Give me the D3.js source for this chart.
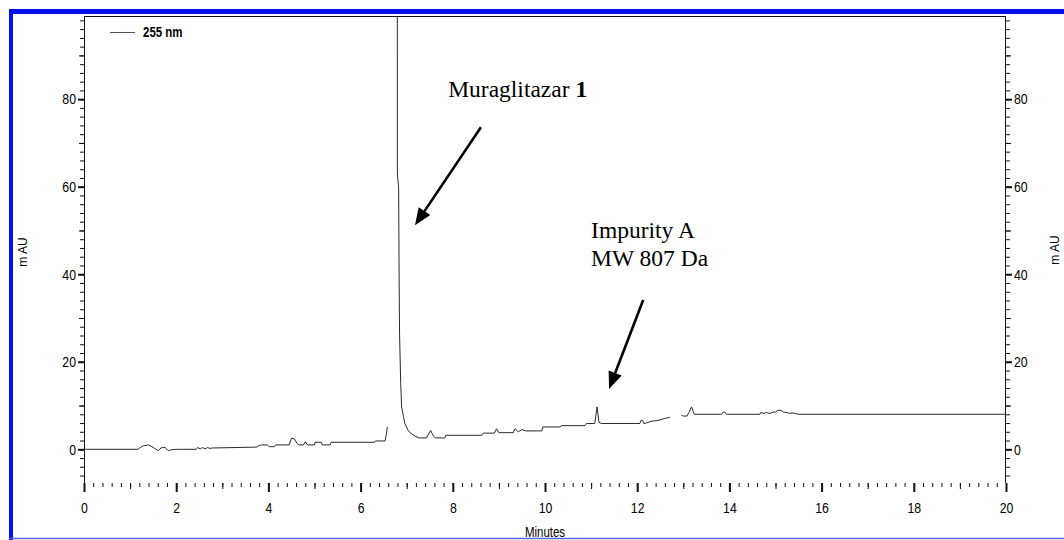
<!DOCTYPE html>
<html>
<head>
<meta charset="utf-8">
<script src="https://cdn.jsdelivr.net/npm/d3@7/dist/d3.min.js"></script>
<style>
    html, body { margin: 0; padding: 0; background: #fff; }
    svg { display: block; }
    .tick text {
        font-family: "Liberation Sans", Arial, sans-serif;
        font-size: 15px;
        fill: #000;
    }
</style>
</head>
<body>
<svg id="chart" width="1064" height="540"></svg>
<script>
// tick labels
const xMajor = [0, 2, 4, 6, 8, 10, 12, 14, 16, 18, 20];
const yMajor = [0, 20, 40, 60, 80];

// chromatogram at 255 nm; null = gap in the trace
const traceTimes = [
    0, 1.17, 1.22, 1.29, 1.4, 1.47, 1.53, 1.61, 1.67, 1.7, 1.76, 1.83, 1.9, 2.0,
    2.43, 2.47, 2.52, 2.57, 2.63, 2.68, 2.73, 2.78, 3.75, 3.8, 3.85, 3.98, 4.02,
    4.13, 4.16, 4.45, 4.5, 4.56, 4.62, 4.66, 4.76, 4.8, 4.85, 4.88, 5.0, 5.01,
    5.15, 5.17, 5.34, 5.36, 6.3, 6.32, 6.53, 6.56, 6.58,
    6.6,
    6.796, 6.797, 6.805, 6.825, 6.835, 6.845, 6.87, 6.89, 6.93, 6.96, 7.03, 7.1,
    7.18, 7.27, 7.43, 7.48, 7.52, 7.57, 7.62, 7.83, 7.85, 8.63, 8.66, 8.9, 8.95,
    9.0, 9.31, 9.35, 9.42, 9.5, 9.58, 9.93, 9.95, 10.33, 10.35, 10.87, 10.9,
    11.08, 11.13, 11.17, 11.22, 12.06, 12.08, 12.12, 12.14, 12.2, 12.3, 12.45,
    12.55, 12.62, 12.71,
    12.8,
    12.96, 13.0, 13.08, 13.12, 13.18, 13.21, 13.24, 13.83, 13.86, 13.9, 13.93,
    14.66, 14.68, 14.75, 14.8, 14.88, 14.95, 15.0, 15.05, 15.12, 15.17, 15.25,
    15.3, 15.38, 15.46, 15.5, 20
];
const traceMau = [
    0, 0, 0.4, 0.8, 1.0, 0.6, 0.2, -0.3, 0.3, 0.4, 0.4, -0.3, -0.1, 0,
    0, 0.4, 0.1, 0.4, 0.1, 0.4, 0.2, 0.3, 0.5, 0.9, 1.0, 1.0, 0.6,
    0.6, 1.0, 1.0, 2.5, 2.4, 1.4, 1.0, 1.0, 1.7, 1.0, 1.0, 1.0, 1.6,
    1.6, 1.0, 1.0, 1.6, 1.6, 1.9, 1.9, 3.5, 5.1,
    null,
    130, 64, 62, 60, 40, 26.5, 15, 9.7, 7.5, 5.9, 4.3, 3.6,
    3.0, 2.6, 2.6, 3.6, 4.3, 3.2, 2.6, 2.6, 3.2, 3.2, 3.7, 3.7, 4.7,
    3.8, 3.8, 4.7, 4.0, 4.5, 4.2, 4.2, 5.1, 5.1, 5.4, 5.4, 5.9,
    5.9, 9.7, 6.2, 5.9, 5.9, 6.6, 6.6, 5.9, 6.0, 6.4, 6.6,
    6.9, 7.1, 7.3,
    null,
    7.8, 7.6, 7.6, 8.4, 9.7, 8.8, 8.0, 8.0, 8.5, 8.5, 8.0,
    8.0, 8.4, 8.2, 8.4, 8.2, 8.5, 8.5, 8.9, 8.9, 8.5, 8.4,
    8.2, 8.3, 8.1, 8.0, 8.0
];

// annotation text and arrows, in data units (minutes, mAU)
const labelLines = [
    { t: 7.9, v: 80.4, parts: [['Muraglitazar ', 'normal'], ['1', 'bold']] },
    { t: 11.0, v: 48.2, parts: [['Impurity A', 'normal']] },
    { t: 11.0, v: 41.8, parts: [['MW 807 Da', 'normal']] }
];
const arrows = [
    { from: [8.61, 73.6], to: [7.18, 51.2] },
    { from: [12.13, 34.1], to: [11.39, 13.8] }
];

const svg = d3.select('#chart');
const plotLeft = 84, plotRight = 1006, plotTop = 16, plotBottom = 483;
const narrow = 0.82; // the old plot uses a condensed face for numbers

const x = d3.scaleLinear().domain([0, 20]).range([plotLeft, plotRight]);
const y = d3.scaleLinear().domain([-7.7, 99]).range([plotBottom, plotTop]);

const points = traceTimes.map((t, i) => ({ t: t, v: traceMau[i] }));

// blue frame
svg.append('rect').attr('x', 9).attr('y', 9).attr('width', 1055).attr('height', 5).attr('fill', '#0010f0');
svg.append('rect').attr('x', 9).attr('y', 9).attr('width', 4).attr('height', 531).attr('fill', '#0010f0');
svg.append('line').attr('x1', 9).attr('x2', 1064).attr('y1', 538.5).attr('y2', 538.5)
    .attr('stroke', '#5566e6').attr('stroke-width', 1.5);

svg.append('clipPath').attr('id', 'plot-clip')
    .append('rect').attr('x', plotLeft).attr('y', plotTop)
    .attr('width', plotRight - plotLeft).attr('height', plotBottom - plotTop);

// axis frame lines
const frame = svg.append('g').attr('stroke', '#111').attr('stroke-width', 1);
frame.append('line').attr('x1', plotLeft + 0.5).attr('x2', plotLeft + 0.5).attr('y1', plotTop).attr('y2', plotBottom);
frame.append('line').attr('x1', plotRight - 0.5).attr('x2', plotRight - 0.5).attr('y1', plotTop).attr('y2', plotBottom);
frame.append('line').attr('x1', plotLeft).attr('x2', plotRight).attr('y1', plotTop + 0.5).attr('y2', plotTop + 0.5);

function addAxis(axis, transform, width) {
    const g = svg.append('g').attr('transform', transform).call(axis);
    g.select('.domain').remove();
    g.selectAll('.tick line').attr('stroke', '#111').attr('stroke-width', width);
    // squeeze the numbers horizontally, keeping their anchor point
    g.selectAll('.tick text').each(function() {
        const t = d3.select(this);
        const tx = +t.attr('x') || 0;
        t.attr('x', tx / narrow).attr('transform', `scale(${narrow},1)`);
    });
    return g;
}

// x axis: minor every 0.2 min, mid every minute, major every 2
addAxis(d3.axisBottom(x).tickValues(d3.range(0, 20.001, 0.2)).tickSize(4).tickFormat(''),
    `translate(0,${plotBottom})`, 1);
addAxis(d3.axisBottom(x).tickValues(d3.range(1, 20, 2)).tickSize(6).tickFormat(''),
    `translate(0,${plotBottom})`, 1);
addAxis(d3.axisBottom(x).tickValues(xMajor).tickSize(9).tickPadding(10).tickFormat(d3.format('d')),
    `translate(0,${plotBottom})`, 2);

// y axes on both sides
const yMinor = d3.range(-6, 99, 2);
[[plotLeft, d3.axisLeft], [plotRight, d3.axisRight]].forEach(([pos, axisFn]) => {
    addAxis(axisFn(y).tickValues(yMinor).tickSize(4).tickFormat(''), `translate(${pos},0)`, 1);
    addAxis(axisFn(y).tickValues(d3.range(10, 99, 20)).tickSize(5).tickFormat(''), `translate(${pos},0)`, 1);
    addAxis(axisFn(y).tickValues(yMajor).tickSize(6).tickPadding(2).tickFormat(d3.format('d')),
        `translate(${pos},0)`, 2);
});

// axis titles
svg.append('text')
    .attr('transform', 'translate(27,252) rotate(-90)')
    .attr('text-anchor', 'middle')
    .style('font-family', '"Liberation Sans", Arial, sans-serif')
    .style('font-size', '12px')
    .text('m AU');
svg.append('text')
    .attr('transform', 'translate(1059,250) rotate(-90)')
    .attr('text-anchor', 'middle')
    .style('font-family', '"Liberation Sans", Arial, sans-serif')
    .style('font-size', '12px')
    .text('m AU');
svg.append('text')
    .attr('transform', `translate(${x(10)},537) scale(${narrow},1)`)
    .attr('text-anchor', 'middle')
    .style('font-family', '"Liberation Sans", Arial, sans-serif')
    .style('font-size', '14px')
    .text('Minutes');

// the trace
const line = d3.line()
    .defined(d => d.v !== null)
    .x(d => x(d.t))
    .y(d => y(d.v));

svg.append('path')
    .datum(points)
    .attr('clip-path', 'url(#plot-clip)')
    .attr('fill', 'none')
    .attr('stroke', '#2a2a2a')
    .attr('stroke-width', 1)
    .attr('d', line);

// legend
svg.append('line').attr('x1', 110).attr('x2', 135).attr('y1', 32.5).attr('y2', 32.5)
    .attr('stroke', '#555').attr('stroke-width', 1);
svg.append('text')
    .attr('transform', `translate(143,37) scale(${narrow},1)`)
    .style('font-family', '"Liberation Sans", Arial, sans-serif')
    .style('font-size', '14px')
    .style('font-weight', 'bold')
    .text('255 nm');

// annotations
labelLines.forEach(l => {
    const txt = svg.append('text')
        .attr('x', x(l.t))
        .attr('y', y(l.v))
        .style('font-family', '"Liberation Serif", "Times New Roman", serif')
        .style('font-size', '23.5px')
        .attr('fill', '#000');
    l.parts.forEach(p => txt.append('tspan').style('font-weight', p[1]).text(p[0]));
});

arrows.forEach(a => {
    const x1 = x(a.from[0]), y1 = y(a.from[1]);
    const x2 = x(a.to[0]), y2 = y(a.to[1]);
    const ang = Math.atan2(y2 - y1, x2 - x1);
    const headLen = 17, headHalf = 7;
    const bx = x2 - headLen * Math.cos(ang), by = y2 - headLen * Math.sin(ang);
    svg.append('line')
        .attr('x1', x1).attr('y1', y1).attr('x2', bx).attr('y2', by)
        .attr('stroke', '#000').attr('stroke-width', 2.6);
    svg.append('polygon')
        .attr('points', [
            [x2, y2],
            [bx + headHalf * Math.sin(ang), by - headHalf * Math.cos(ang)],
            [bx - headHalf * Math.sin(ang), by + headHalf * Math.cos(ang)]
        ].join(' '))
        .attr('fill', '#000');
});
</script>
</body>
</html>
